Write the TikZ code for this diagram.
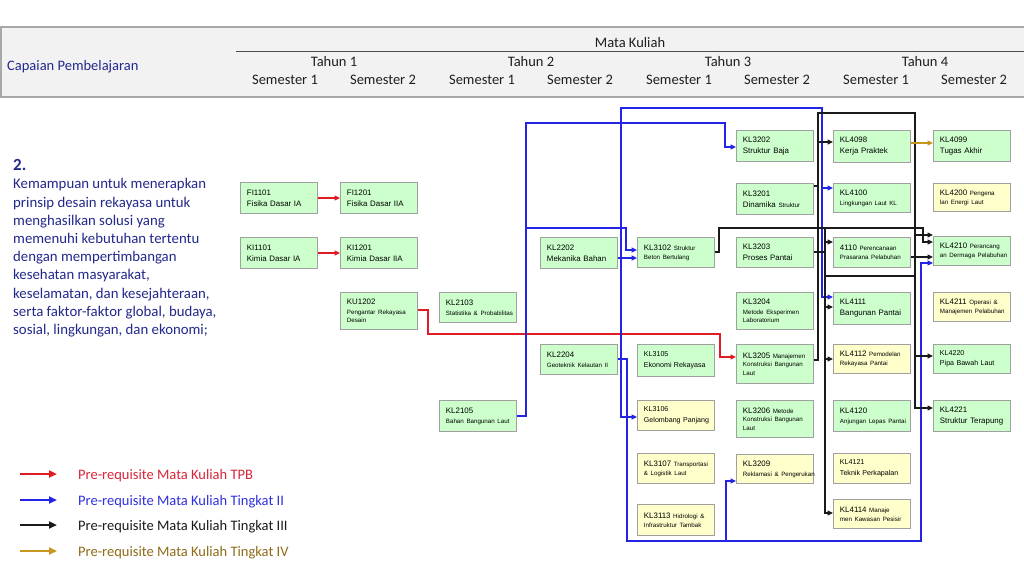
\documentclass[tikz,border=0pt]{standalone}
\usepackage{fontspec}
\setmainfont{Carlito}
\newfontfamily\arialf{Liberation Sans}
\usetikzlibrary{arrows.meta}
\definecolor{lgreen}{HTML}{CCFFCC}
\definecolor{lyellow}{HTML}{FFFFCC}
\definecolor{boxgray}{HTML}{A0A0A0}
\definecolor{hdrfill}{HTML}{F2F2F2}
\definecolor{hdrline}{HTML}{A8A8A8}
\definecolor{navy}{HTML}{23288C}
\definecolor{cred}{HTML}{E01B24}
\definecolor{cblue}{HTML}{2424E6}
\definecolor{cblack}{HTML}{1A1A1A}
\definecolor{cgold}{HTML}{C8961E}
\definecolor{tred}{HTML}{D9253A}
\definecolor{tblue}{HTML}{3030E0}
\definecolor{tgold}{HTML}{8F6B17}
\definecolor{hdrtext}{HTML}{1F1F1F}
\newcommand{\smt}[1]{{\fontsize{6.2}{8.3}\selectfont #1}}
\tikzset{
  gbox/.style={draw=boxgray, line width=0.9pt, fill=lgreen, anchor=north west,
    minimum width=77pt, minimum height=31pt, inner xsep=6.5pt, inner ysep=1pt,
    text width=64pt, align=left, font=\arialf\fontsize{7.9}{11}\selectfont},
  ybox/.style={gbox, fill=lyellow},
  mixed/.style={font=\arialf\fontsize{7.9}{8.3}\selectfont},
  nar/.style={font=\arialf\fontsize{7.1}{10.5}\selectfont},
  conn/.style={line width=1.1pt, line join=miter},
  tip/.style={-{Triangle[length=5.5pt,width=5pt]}},
  bl/.style={conn, draw=cblue},
  bla/.style={bl, tip},
  rd/.style={conn, draw=cred},
  rda/.style={rd, tip},
  bk/.style={conn, draw=cblack},
  bka/.style={bk, tip},
  gda/.style={conn, draw=cgold, tip},
  hdr/.style={font=\fontsize{14.5}{17}\selectfont, text=hdrtext, inner sep=0pt},
  legline/.style={line width=2.4pt, -{Triangle[length=8pt,width=7pt]}},
  legtext/.style={anchor=west, inner sep=0pt, font=\fontsize{14.5}{17}\selectfont},
}
\begin{document}
\begin{tikzpicture}[x=1pt,y=-1pt]
\useasboundingbox (0,0) rectangle (1024,576);
\fill[white] (0,0) rectangle (1024,576);
% header band
\fill[hdrfill] (1,27) rectangle (1030,97);
\draw[hdrline, line width=2pt] (1030,27) -- (1,27) -- (1,97) -- (1030,97);
\draw[hdrtext!80, line width=0.7pt] (236,51) -- (1030,51);
\node[hdr, anchor=west, text=navy] (cp) at (7,67) {Capaian Pembelajaran};
\node[hdr] (mk) at (630,43) {Mata Kuliah};
\node[hdr] (th1) at (334,61.5) {Tahun 1};
\node[hdr] (th2) at (531,61.5) {Tahun 2};
\node[hdr] (th3) at (728,61.5) {Tahun 3};
\node[hdr] (th4) at (925,61.5) {Tahun 4};
\node[hdr] (s1) at (285,79.5) {Semester 1};
\node[hdr] (s2) at (383,79.5) {Semester 2};
\node[hdr] (s3) at (482,79.5) {Semester 1};
\node[hdr] (s4) at (580,79.5) {Semester 2};
\node[hdr] (s5) at (679,79.5) {Semester 1};
\node[hdr] (s6) at (777,79.5) {Semester 2};
\node[hdr] (s7) at (876,79.5) {Semester 1};
\node[hdr] (s8) at (974,79.5) {Semester 2};
% learning outcome text
\node[anchor=west, inner sep=0pt, text=navy, font=\bfseries\fontsize{17}{20}\selectfont] (num) at (13,165) {2.};
\node[anchor=north west, inner sep=0pt, text=navy, align=left, font=\fontsize{14.8}{18.2}\selectfont] (cpl) at (13,178.5)
 {Kemampuan untuk menerapkan\\prinsip desain rekayasa untuk\\menghasilkan solusi yang\\memenuhi kebutuhan tertentu\\dengan mempertimbangan\\kesehatan masyarakat,\\keselamatan, dan kesejahteraan,\\serta faktor-faktor global, budaya,\\sosial, lingkungan, dan ekonomi;};
% Year 1
\node[gbox] (fi1101) at (240,182) {FI1101\\Fisika Dasar IA};
\node[gbox] (fi1201) at (340,182) {FI1201\\Fisika Dasar IIA};
\node[gbox] (ki1101) at (240,237) {KI1101\\Kimia Dasar IA};
\node[gbox] (ki1201) at (340,237) {KI1201\\Kimia Dasar IIA};
\node[gbox, mixed, minimum height=37pt] (ku1202) at (340,292) {KU1202\\[1.6pt]\smt{\mbox{Pengantar Rekayasa}\\Desain}};
% Year 2
\node[gbox, mixed, minimum height=30pt] (kl2103) at (439,292) {KL2103\\[1.6pt]\smt{\mbox{Statistika \& Probabilitas}}};
\node[gbox, mixed] (kl2105) at (439,400) {KL2105\\[1.6pt]\smt{\mbox{Bahan Bangunan Laut}}};
\node[gbox] (kl2202) at (540,237) {KL2202\\Mekanika Bahan};
\node[gbox, mixed, minimum height=30pt] (kl2204) at (540,344) {KL2204\\[1.6pt]\smt{\mbox{Geoteknik Kelautan II}}};
% Year 3 sem 1
\node[gbox, mixed, minimum height=30pt] (kl3102) at (637,237) {\mbox{KL3102 \smt{Struktur}}\\[0.6pt]\smt{\mbox{Beton Bertulang}}};
\node[gbox, nar, minimum height=32pt] (kl3105) at (637,344) {KL3105\\\mbox{Ekonomi Rekayasa}};
\node[ybox, nar, minimum height=30pt] (kl3106) at (637,400) {KL3106\\\mbox{Gelombang Panjang}};
\node[ybox, mixed, minimum height=30pt] (kl3107) at (637,453) {\mbox{KL3107 \smt{Transportasi}}\\[0.6pt]\smt{\mbox{\& Logistik Laut}}};
\node[ybox, mixed] (kl3113) at (637,504) {\mbox{KL3113 \smt{Hidrologi \&}}\\[0.6pt]\smt{\mbox{Infrastruktur Tambak}}};
% Year 3 sem 2
\node[gbox] (kl3202) at (736,130) {KL3202\\Struktur Baja};
\node[gbox] (kl3201) at (736,183) {KL3201\\\mbox{Dinamika \smt{Struktur}}};
\node[gbox, minimum height=30pt] (kl3203) at (736,237) {KL3203\\Proses Pantai};
\node[gbox, mixed, minimum height=37pt] (kl3204) at (736,292) {KL3204\\[1.6pt]\smt{\mbox{Metode Eksperimen}\\Laboratorium}};
\node[gbox, mixed, minimum height=39pt] (kl3205) at (736,344) {\mbox{KL3205 \smt{Manajemen}}\\[0.6pt]\smt{\mbox{Konstruksi Bangunan}\\Laut}};
\node[gbox, mixed, minimum height=37pt] (kl3206) at (736,400) {\mbox{KL3206 \smt{Metode}}\\[0.6pt]\smt{\mbox{Konstruksi Bangunan}\\Laut}};
\node[ybox, mixed, minimum height=29pt] (kl3209) at (736,454) {KL3209\\[1.6pt]\smt{\mbox{Reklamasi \& Pengerukan}}};
% Year 4 sem 1
\node[gbox, minimum height=32pt] (kl4098) at (833,130) {KL4098\\Kerja Praktek};
\node[gbox, mixed, minimum height=29pt] (kl4100) at (833,183) {KL4100\\[1.6pt]\smt{\mbox{Lingkungan Laut KL}}};
\node[gbox, mixed, minimum height=30pt] (kl4110) at (833,237) {\mbox{4110 \smt{Perencanaan}}\\[0.6pt]\smt{\mbox{Prasarana Pelabuhan}}};
\node[gbox, minimum height=32pt] (kl4111) at (833,292) {KL4111\\Bangunan Pantai};
\node[ybox, mixed, minimum height=29pt] (kl4112) at (833,344) {\mbox{KL4112 \smt{Pemodelan}}\\[0.6pt]\smt{\mbox{Rekayasa Pantai}}};
\node[gbox, mixed] (kl4120) at (833,400) {KL4120\\[1.6pt]\smt{\mbox{Anjungan Lepas Pantai}}};
\node[ybox, nar, minimum height=30pt] (kl4121) at (833,453) {KL4121\\\mbox{Teknik Perkapalan}};
\node[ybox, mixed, minimum height=29pt] (kl4114) at (833,499) {\mbox{KL4114 \smt{Manaje}}\\[0.6pt]\smt{\mbox{men Kawasan Pesisir}}};
% Year 4 sem 2
\node[gbox] (kl4099) at (933,130) {KL4099\\Tugas Akhir};
\node[ybox, mixed, minimum height=28pt] (kl4200) at (933,183) {\mbox{KL4200 \smt{Pengena}}\\[0.6pt]\smt{\mbox{lan Energi Laut}}};
\node[gbox, mixed, minimum height=29pt] (kl4210) at (933,236) {\mbox{KL4210 \smt{Perancang}}\\[0.6pt]\smt{\mbox{an Dermaga Pelabuhan}}};
\node[ybox, mixed, minimum height=29pt] (kl4211) at (933,292) {\mbox{KL4211 \smt{Operasi \&}}\\[0.6pt]\smt{\mbox{Manajemen Pelabuhan}}};
\node[gbox, nar, minimum height=29pt] (kl4220) at (933,344) {KL4220\\\mbox{Pipa Bawah Laut}};
\node[gbox] (kl4221) at (933,400) {KL4221\\\mbox{Struktur Terapung}};
% ---- red connectors
\draw[rda] (fi1101.east) -- (fi1201.west);
\draw[rda] (ki1101.east) -- (ki1201.west);
\draw[rda] (ku1202.east |- 0,310) -- (428,310) -- (428,334) -- (720,334) -- (720,357) -- (kl3205.west |- 0,357);
% ---- blue connectors
\draw[bla] (kl2105.east) -| (526,123) -| (725,147) -- (kl3202.west |- 0,147);
\draw[bla] (526,228) -| (626,250) -- (kl3102.west |- 0,250);
\draw[bla] (kl2202.east |- 0,258) -- (kl3102.west |- 0,258);
\draw[bla] (kl2204.east |- 0,359) -- (627,359) -- (627,541) -- (921,541) -- (921,263) -- (kl4210.west |- 0,263);
\draw[bla] (726,541) -- (726,481) -- (kl3209.west |- 0,481);
\draw[bla] (621,359) -- (621,417) -- (kl3106.west |- 0,417);
\draw[bla] (621,359) -- (621,108) -- (822,108) -- (822,297) -- (kl4111.west |- 0,297);
\draw[bla] (822,188) -- (kl4100.west |- 0,188);
% ---- black connectors
\draw[bka] (kl3201.east |- 0,186) -- (818,186) -- (818,113) -- (915,113) -- (915,408) -- (kl4221.west |- 0,408);
\draw[bk] (kl3205.east |- 0,360) -- (818,360) -- (818,186);
\draw[bka] (818,142) -- (kl4098.west |- 0,142);
\draw[bka] (915,235) -- (kl4210.west |- 0,235);
\draw[bka] (915,356) -- (kl4220.west |- 0,356);
\draw[bka] (kl3102.east |- 0,252) -- (719,252) -- (719,228) -- (923,228) -- (923,242) -- (kl4210.west |- 0,242);
\draw[bk] (kl3203.east |- 0,252) -- (825,252);
\draw[bka] (825,228) -- (825,513) -- (kl4114.west |- 0,513);
\draw[bka] (825,242) -- (kl4110.west |- 0,242);
\draw[bka] (825,307) -- (kl4111.west |- 0,307);
\draw[bka] (825,359) -- (kl4112.west |- 0,359);
\draw[bk] (825,276) -- (915,276);
\draw[bka] (kl4110.east |- 0,257) -- (kl4210.west |- 0,257);
% ---- gold connector
\draw[gda] (kl4098.east |- 0,143) -- (kl4099.west |- 0,143);
% ---- legend
\coordinate (la1) at (20,474); \coordinate (lb1) at (57,474);
\coordinate (la2) at (20,500); \coordinate (lb2) at (57,500);
\coordinate (la3) at (20,525); \coordinate (lb3) at (57,525);
\coordinate (la4) at (20,551); \coordinate (lb4) at (57,551);
\draw[legline, draw=cred] (la1) -- (lb1);
\draw[legline, draw=cblue] (la2) -- (lb2);
\draw[legline, draw=cblack] (la3) -- (lb3);
\draw[legline, draw=cgold] (la4) -- (lb4);
\node[legtext, text=tred] (lt1) at (78,475.5) {Pre-requisite Mata Kuliah TPB};
\node[legtext, text=tblue] (lt2) at (78,501.5) {Pre-requisite Mata Kuliah Tingkat II};
\node[legtext, text=cblack] (lt3) at (78,526.5) {Pre-requisite Mata Kuliah Tingkat III};
\node[legtext, text=tgold] (lt4) at (78,552.5) {Pre-requisite Mata Kuliah Tingkat IV};
\end{tikzpicture}
\end{document}
